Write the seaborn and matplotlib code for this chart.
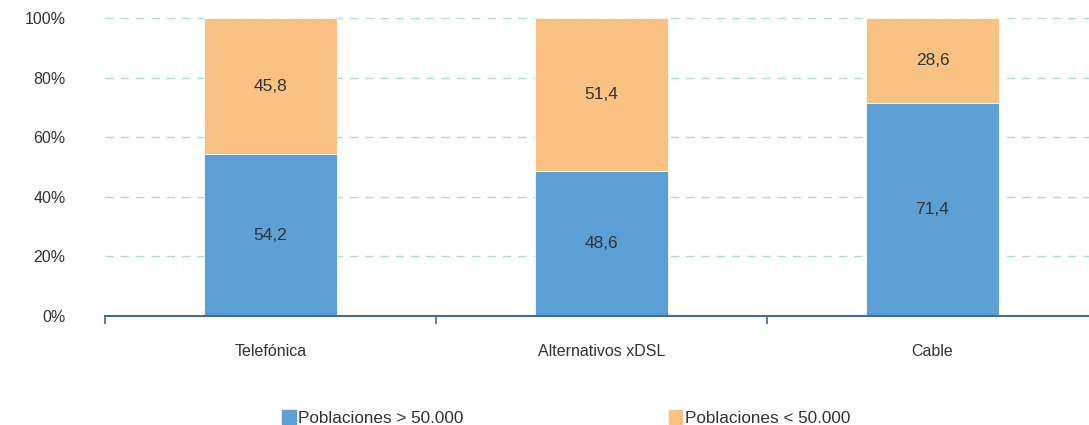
import seaborn as sns
import matplotlib.pyplot as plt
import pandas as pd
from matplotlib.patches import Patch

categorias = ['Telefónica', 'Alternativos xDSL', 'Cable']
mayores = [54.2, 48.6, 71.4]   # Poblaciones > 50.000
menores = [45.8, 51.4, 28.6]   # Poblaciones < 50.000

azul = '#5b9fd5'
naranja = '#fac282'

df = pd.DataFrame({'cat': categorias, 'mayores': mayores, 'menores': menores})
df['total'] = df['mayores'] + df['menores']

sns.set_style('white')
plt.rcParams['font.family'] = ['Liberation Sans', 'DejaVu Sans']

fig = plt.figure(figsize=(10.89, 4.25), dpi=100)
ax = fig.add_axes([0.0964, 0.2565, 0.9036, 0.7012])

sns.barplot(data=df, x='cat', y='total', color=naranja, saturation=1,
            width=0.4, edgecolor='white', linewidth=0.6, ax=ax, zorder=2)
sns.barplot(data=df, x='cat', y='mayores', color=azul, saturation=1,
            width=0.4, edgecolor='white', linewidth=0.6, ax=ax, zorder=3)

# etiquetas centradas en cada tramo
for i, (m, n) in enumerate(zip(mayores, menores)):
    ax.text(i, m / 2, f'{m:.1f}'.replace('.', ','), ha='center', va='center',
            fontsize=12.5, color='#333333', zorder=5)
    ax.text(i, m + n / 2, f'{n:.1f}'.replace('.', ','), ha='center', va='center',
            fontsize=12.5, color='#333333', zorder=5)

ax.set_ylim(0, 100)
ax.set_xlim(-0.5, 2.473)
ax.set_yticks(range(0, 101, 20))
ax.set_yticklabels([f'{v}%' for v in range(0, 101, 20)], fontsize=11.5, color='#333333')
ax.yaxis.grid(True, linestyle=(0, (6, 5)), color='#a9ddd8', linewidth=1)
ax.set_axisbelow(True)
ax.tick_params(axis='y', length=0, pad=28.5)

ax.set_xticks([0, 1, 2])
ax.set_xticklabels(categorias, fontsize=11.5, color='#333333')
ax.set_xticks([-0.5, 0.5, 1.5], minor=True)
ax.tick_params(axis='x', which='major', length=0, pad=20)
ax.tick_params(axis='x', which='minor', bottom=True, length=6, width=1.2,
               color='#3f6aa3', direction='out')
ax.set_xlabel('')
ax.set_ylabel('')

for s in ['top', 'right', 'left']:
    ax.spines[s].set_visible(False)
ax.spines['bottom'].set_color('#3f6aa3')
ax.spines['bottom'].set_linewidth(1.5)
ax.spines['bottom'].set_zorder(4)

handles = [Patch(color=azul), Patch(color=naranja)]
fig.legend(handles, ['Poblaciones > 50.000', 'Poblaciones < 50.000'],
           loc='center', bbox_to_anchor=(0.520, 0.016), ncol=2, frameon=False,
           fontsize=12.3, handlelength=0.8, handleheight=0.8, handletextpad=0.15,
           columnspacing=12.0, labelcolor='#333333')

fig.savefig('out.png', dpi=100)
